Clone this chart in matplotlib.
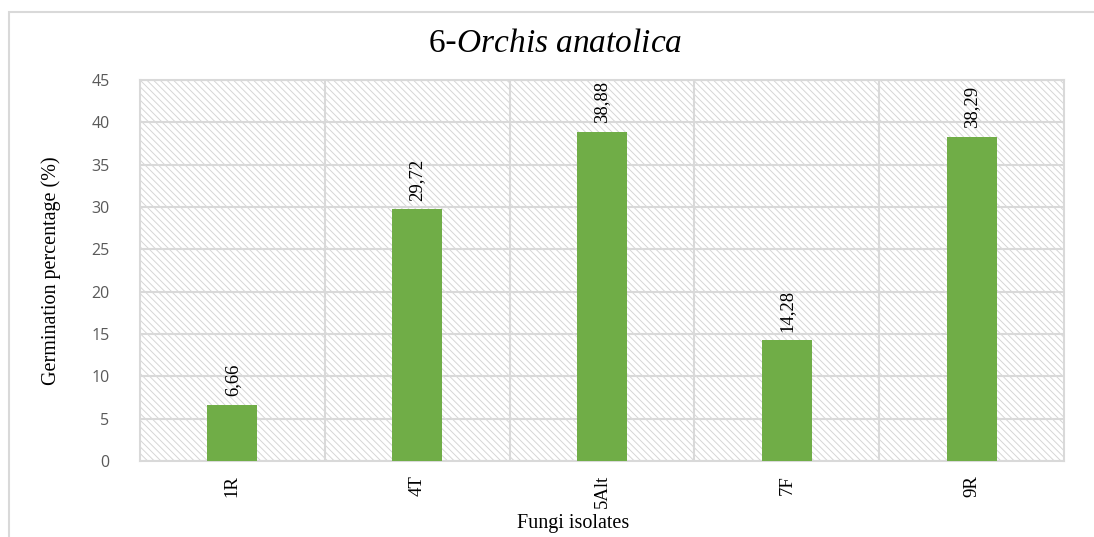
import matplotlib
matplotlib.use("Agg")
import matplotlib.pyplot as plt
from matplotlib.patches import Rectangle

# Data
isolates = ["1R", "4T", "5Alt", "7F", "9R"]
germination = [6.66, 29.72, 38.88, 14.28, 38.29]
value_labels = ["6,66", "29,72", "38,88", "14,28", "38,29"]
y_ticks = [0, 5, 10, 15, 20, 25, 30, 35, 40, 45]

plt.rcParams['hatch.linewidth'] = 0.7
plt.rcParams['hatch.color'] = '#d6d6d6'
plt.rcParams['mathtext.fontset'] = 'custom'
plt.rcParams['mathtext.it'] = 'Liberation Serif:italic'
plt.rcParams['mathtext.rm'] = 'Liberation Serif'

W, H = 1094, 537
fig = plt.figure(figsize=(W / 100, H / 100), dpi=100)

# outer chart border
fig.patches.append(Rectangle((9 / W, -0.05), 1.1, 1 - 12 / H + 0.05, transform=fig.transFigure,
                             fill=False, edgecolor='#d9d9d9', linewidth=1.5, zorder=0))

ax = fig.add_axes([140 / W, 1 - 461 / H, (1064 - 140) / W, (461 - 80) / H])
ax.set_facecolor('white')

# hatched plot area background
ax.add_patch(Rectangle((0, 0), 1, 1, transform=ax.transAxes, facecolor='white',
                       edgecolor='#d6d6d6', hatch='\\\\\\\\\\', linewidth=0, zorder=0))

x = list(range(len(isolates)))
ax.bar(x, germination, width=0.27, color='#70AD47', zorder=3)

for xi, v, lab in zip(x, germination, value_labels):
    ax.annotate(lab, (xi, v), xytext=(0, 6), textcoords='offset points', rotation=90,
                ha='center', va='bottom', fontsize=13.5, family='Liberation Serif', color='black')

ax.set_xlim(-0.5, len(isolates) - 0.5)
ax.set_ylim(0, 45)
ax.set_yticks(y_ticks)
ax.set_xticks(x)
ax.set_xticklabels(isolates, rotation=90, family='Liberation Serif', fontsize=13.5)
ax.set_xticks([i + 0.5 for i in x[:-1]], minor=True)

for t in ax.get_yticklabels():
    t.set_family('Open Sans')
    t.set_fontsize(11.5)
    t.set_color('#595959')

ax.tick_params(axis='both', which='both', length=0)
ax.tick_params(axis='y', pad=22)
ax.tick_params(axis='x', pad=10)

ax.grid(axis='y', which='major', color='#d9d9d9', linewidth=1.5, zorder=1)
ax.grid(axis='x', which='minor', color='#d9d9d9', linewidth=1.5, zorder=1)
ax.set_axisbelow(True)
for s in ax.spines.values():
    s.set_color('#d9d9d9')
    s.set_linewidth(1.5)

ax.set_ylabel('Germination percentage (%)', family='Liberation Serif', fontsize=14.5)
ax.yaxis.set_label_coords(-0.085, 0.5)
ax.set_xlabel('Fungi isolates', family='Liberation Serif', fontsize=14.5)
ax.xaxis.set_label_coords(0.469, -0.14)

fig.text(555 / W, 1 - 43 / H, '$\\mathrm{6}$-$\\mathit{Orchis\\ anatolica}$', ha='center', va='center',
         fontsize=24)

fig.savefig('out.png', dpi=100)
